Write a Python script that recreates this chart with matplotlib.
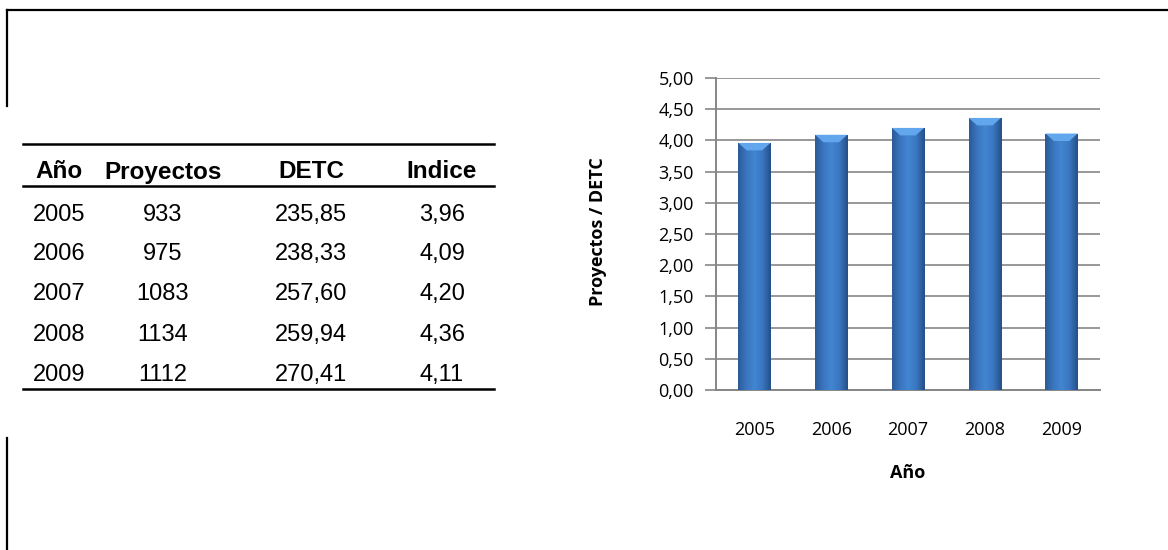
import numpy as np
import matplotlib
matplotlib.use("Agg")
import matplotlib.pyplot as plt
from matplotlib.lines import Line2D
from matplotlib.patches import Polygon
from matplotlib.colors import LinearSegmentedColormap

years = ["2005", "2006", "2007", "2008", "2009"]
proyectos = [933, 975, 1083, 1134, 1112]
detc = [235.85, 238.33, 257.60, 259.94, 270.41]
indice = [3.96, 4.09, 4.20, 4.36, 4.11]
headers = ["Año", "Proyectos", "DETC", "Indice"]
yticks = [0, 0.5, 1, 1.5, 2, 2.5, 3, 3.5, 4, 4.5, 5]

W, H = 1168, 550
fig = plt.figure(figsize=(W / 100, H / 100), dpi=100)
fig.patch.set_facecolor("white")

def fx(px):
    return px / W

def fy(py):
    return 1 - py / H

# frame lines
fig.add_artist(Line2D([fx(7), 1.0], [fy(10), fy(10)], color="black", lw=1.6))
fig.add_artist(Line2D([fx(7), fx(7)], [fy(10), fy(106)], color="black", lw=1.6))
fig.add_artist(Line2D([fx(7), fx(7)], [fy(438), fy(550)], color="black", lw=1.6))

# table
tfont = "Liberation Sans"
fs = 17
fsh = 17.5
fig.add_artist(Line2D([fx(23), fx(494)], [fy(144), fy(144)], color="black", lw=1.8))
fig.add_artist(Line2D([fx(23), fx(494)], [fy(186), fy(186)], color="black", lw=1.8))
fig.add_artist(Line2D([fx(23), fx(494)], [fy(389), fy(389)], color="black", lw=1.8))
col_x = [59, 163, 311, 442]
for h, cx in zip(headers, col_x):
    fig.text(fx(cx), fy(172), h, ha="center", va="center", fontsize=fsh,
             fontweight="bold", family=tfont)
row_y = [215, 254, 294, 335, 375]
for i in range(len(years)):
    ry = fy(row_y[i])
    fig.text(fx(33), ry, years[i], ha="left", va="center", fontsize=fs, family=tfont)
    fig.text(fx(163), ry, str(proyectos[i]), ha="center", va="center", fontsize=fs, family=tfont)
    fig.text(fx(311), ry, f"{detc[i]:.2f}".replace(".", ","), ha="center", va="center",
             fontsize=fs, family=tfont)
    fig.text(fx(442), ry, f"{indice[i]:.2f}".replace(".", ","), ha="center", va="center",
             fontsize=fs, family=tfont)

# chart
ax = fig.add_axes([fx(716), fy(390), fx(1100) - fx(716), fy(78) - fy(390)])
cfont = "Open Sans"
x = np.arange(len(years))
bw = 0.42
bars = ax.bar(x, indice, width=bw, color="#3a78c3", zorder=3, edgecolor="none")

cmap = LinearSegmentedColormap.from_list(
    "bar", ["#2b5a97", "#3a76c0", "#4285d1", "#3a76c0", "#254f88"])
grad = np.linspace(0, 1, 64).reshape(1, -1)
for b in bars:
    x0, w, h = b.get_x(), b.get_width(), b.get_height()
    im = ax.imshow(grad, cmap=cmap, aspect="auto", extent=[x0, x0 + w, 0, h],
                   zorder=4, interpolation="bicubic")
    im.set_clip_path(b)
    # top bevel
    bev = 0.12
    poly = Polygon([[x0, h], [x0 + w, h], [x0 + w - 0.11, h - bev], [x0 + 0.11, h - bev]],
                   closed=True, facecolor="#62a6ee", edgecolor="none", zorder=5)
    ax.add_patch(poly)

ax.set_xlim(-0.5, len(years) - 0.5)
ax.set_ylim(0, 5)
ax.set_yticks(yticks)
ax.set_yticklabels([f"{v:.2f}".replace(".", ",") for v in yticks],
                   fontsize=13, family=cfont)
ax.set_xticks(x)
ax.set_xticklabels(years, fontsize=13, family=cfont)
ax.tick_params(axis="x", length=0, pad=22)
ax.tick_params(axis="y", length=8, width=1.2, color="#868686", pad=8, direction="out")
ax.yaxis.grid(True, color="#868686", lw=1.2, zorder=0)
ax.set_axisbelow(True)
for s in ["top", "right"]:
    ax.spines[s].set_visible(False)
ax.spines["left"].set_color("#868686")
ax.spines["left"].set_linewidth(1.4)
ax.spines["bottom"].set_color("#868686")
ax.spines["bottom"].set_linewidth(1.4)
ax.set_facecolor("white")

fig.text(fx(598), fy(232), "Proyectos / DETC", rotation=90, ha="center", va="center",
         fontsize=13, fontweight="bold", family=cfont)
fig.text(fx(908), fy(473), "Año", ha="center", va="center",
         fontsize=13, fontweight="bold", family=cfont)

fig.savefig("out.png", dpi=100, facecolor="white")
